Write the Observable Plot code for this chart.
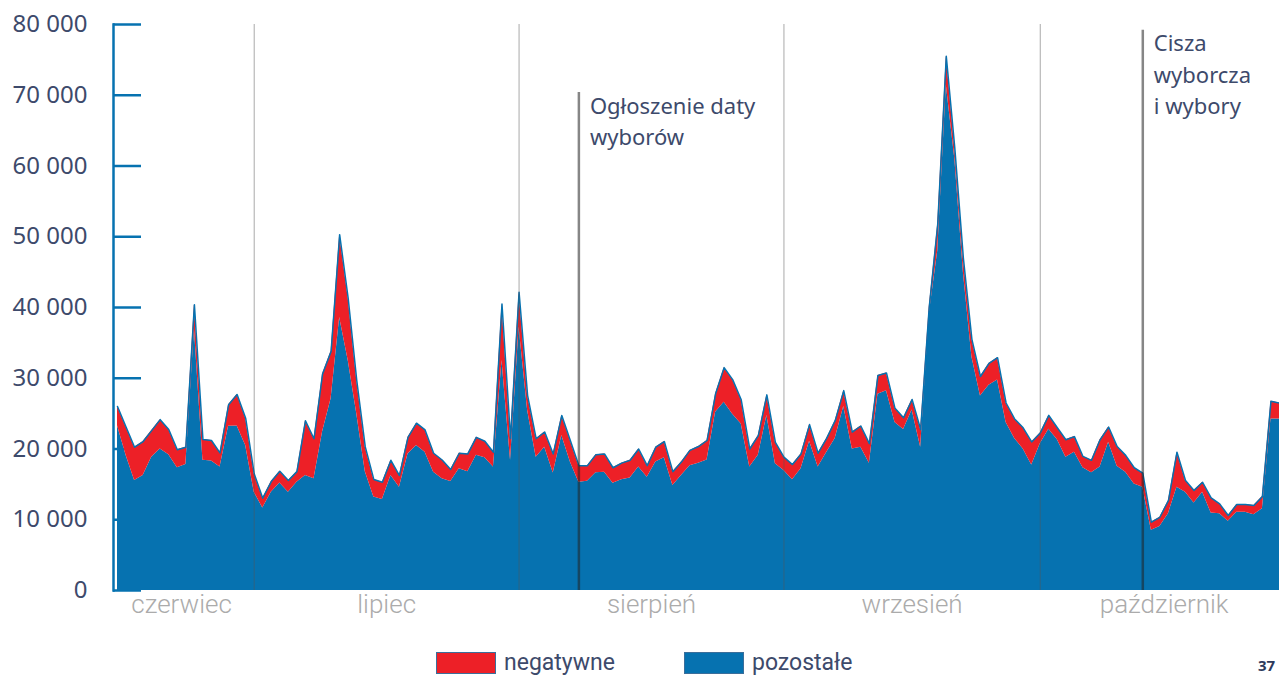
<!DOCTYPE html>
<html><head><meta charset="utf-8">
<script src="https://cdn.jsdelivr.net/npm/d3@7"></script>
<script src="https://cdn.jsdelivr.net/npm/@observablehq/plot@0.6"></script>
<style>
html,body{margin:0;padding:0;background:#fff;overflow:hidden;width:1279px;height:675px;position:relative;}
#chart svg{display:block;}
#legend{position:absolute;left:0;top:651px;width:1279px;height:24px;font-family:Roboto,sans-serif;font-size:23px;color:#3d4a6b;}
.item{position:absolute;top:0;display:flex;align-items:center;height:23px;}
.sw{width:58px;height:20px;margin-right:8px;border:1px solid #3b6e9a;}
#page{position:absolute;left:1258px;top:657px;font-family:"Noto Sans",sans-serif;font-weight:700;font-size:15px;line-height:16px;color:#2d3a5b;}
</style></head><body>
<div id="chart"></div>
<div id="legend"></div>
<div id="page">37</div>
<script>
// daily data, first day:
const startDate = "2023-06-15";
// "pozostałe" (other) daily counts
const pozostale = [
23300,19100,15550,16250,18850,20000,19200,17350,17800,37000,
18400,18300,17450,23200,23250,20500,13900,11650,13900,15200,
13900,15300,16250,15800,22400,27100,38600,32500,25000,16800,
13200,12850,16250,14600,19300,20500,19550,16700,15800,15400,
17200,16800,19100,18750,17450,32500,18400,37200,25450,18850,
20250,16600,21900,18150,15300,15450,16650,16700,15150,15650,
15900,17450,16000,18150,18750,14850,16250,17650,18000,18450,
25200,26600,24900,23550,17450,19100,24750,17900,16950,15650,
17200,21100,17450,19500,21500,26000,20000,20250,18000,27750,
28250,23750,22750,25500,20250,39000,48000,71500,61000,45000,
33000,27500,29000,29750,23750,21500,20000,17750,20750,22800,
21300,18850,19550,17350,16650,17450,20950,17550,16700,15050,
14600,8500,9050,10850,14600,13900,12350,13900,10950,10850,
9800,11050,11050,10700,11550,24250,24250];
// "negatywne" (negative) daily counts
const negatywne = [
2700,4000,4700,4800,3750,4150,3550,2550,2450,3400,
2950,2900,2000,3050,4450,3850,2600,1400,1500,1650,
1650,1500,7750,5650,8200,6700,11700,8800,4700,3500,
2500,2450,2150,1650,2350,3150,3150,2700,2650,1700,
2200,2500,2550,2350,2100,8000,3100,4950,2100,2600,
2150,2700,2850,3050,2350,2200,2550,2600,2200,2350,
2500,2550,1650,2100,2300,1950,1900,2150,2350,2750,
2600,4900,4900,3400,2550,2800,2900,3050,1900,2150,
2100,2350,1950,2000,2500,2250,2400,3000,2750,2650,
2500,2000,1650,1500,2500,1000,3800,4000,1500,2000,
2500,2750,3100,3150,2750,2750,3000,3250,1500,1950,
1700,2450,2200,1600,1750,3850,2150,2800,2400,2300,
2000,1150,1300,1850,4950,1650,1800,1400,2150,1400,
800,1100,1100,1300,1750,2500,2250];
const seriesNames = ["negatywne", "pozostałe"];
const yTicks = [0,10000,20000,30000,40000,50000,60000,70000,80000];
const monthStarts = ["2023-07-01","2023-08-01","2023-09-01","2023-10-01"];
const monthLabels = ["czerwiec","lipiec","sierpień","wrzesień","październik"];
const monthLabelDates = ["2023-06-22T12:00","2023-07-16T12:00","2023-08-16T12:00","2023-09-16","2023-10-15T12:00"];
const eventDates = ["2023-08-08","2023-10-13"];
const eventLabels = ["Ogłoszenie daty\nwyborów","Cisza\nwyborcza\ni wybory"];
const eventTops = [70400, 79200];

const BLUE = "#0672b0", RED = "#ed2027", TEXT = "#3d4a6b";
const d0 = new Date(startDate + "T00:00Z");
const pd = s => new Date(s.length > 10 ? s + "Z" : s + "T00:00Z");
const rows = pozostale.map((v, i) => ({date: d3.utcDay.offset(d0, i), pozostale: v, negatywne: negatywne[i], total: v + negatywne[i]}));
const long = rows.flatMap(r => [
  {date: r.date, series: "pozostałe", value: r.pozostale},
  {date: r.date, series: "negatywne", value: r.negatywne}
]);
const events = eventDates.map((d, i) => ({date: pd(d), label: eventLabels[i], top: eventTops[i]}));
const months = monthLabels.map((l, i) => ({date: pd(monthLabelDates[i]), label: l}));
const locale = d3.formatLocale({decimal: ",", thousands: " ", grouping: [3], currency: ["", " zł"]});
const fmt = locale.format(",d");

const W = 1279, H = 635, ML = 113;
const chart = Plot.plot({
  width: W, height: H, marginLeft: ML, marginRight: 0, marginTop: 24, marginBottom: 45,
  style: {fontFamily: "'Noto Sans', sans-serif", fontSize: "24px", color: TEXT, background: "white"},
  x: {type: "utc", domain: [rows[0].date, rows[rows.length - 1].date], insetLeft: 4, axis: null},
  y: {domain: [0, 80000]},
  color: {domain: seriesNames, range: [RED, BLUE]},
  marks: [
    Plot.tickY(yTicks, {y: d => d, stroke: BLUE, strokeWidth: 2.5, insetRight: W - ML - 28}),
    Plot.areaY(long, Plot.stackY({x: "date", y: "value", fill: "series", order: ["pozostałe", "negatywne"]})),
    Plot.lineY(rows, {x: "date", y: "total", stroke: BLUE, strokeWidth: 1.5}),
    Plot.ruleX(monthStarts.map(pd), {stroke: "#555", strokeOpacity: 0.5, strokeWidth: 1}),
    Plot.ruleX(events, {x: "date", y1: 0, y2: "top", stroke: "#222", strokeOpacity: 0.55, strokeWidth: 2.5}),
    Plot.text(events, {x: "date", y: "top", text: "label", textAnchor: "start", lineAnchor: "top", dx: 11, dy: -1, lineHeight: 1.42, fill: TEXT, fontSize: 22}),
    Plot.text(months, {x: "date", text: "label", frameAnchor: "bottom", dy: 22, fill: "#ababab", fontSize: 26, fontWeight: 300, fontFamily: "Roboto, sans-serif"}),
    Plot.axisY(yTicks, {anchor: "left", tickSize: 0, tickPadding: 26, tickFormat: fmt, fontSize: 24, fill: TEXT}),
    Plot.frame({anchor: "left", stroke: BLUE, strokeWidth: 2.5})
  ]
});
document.getElementById("chart").append(chart);

const legend = document.getElementById("legend");
[["negatywne", RED, 436], ["pozostałe", BLUE, 684]].forEach(([name, col, left]) => {
  const it = document.createElement("div"); it.className = "item"; it.style.left = left + "px";
  const sw = document.createElement("div"); sw.className = "sw"; sw.style.background = col;
  const tx = document.createElement("span"); tx.textContent = name;
  it.append(sw, tx); legend.append(it);
});
</script>
</body></html>
